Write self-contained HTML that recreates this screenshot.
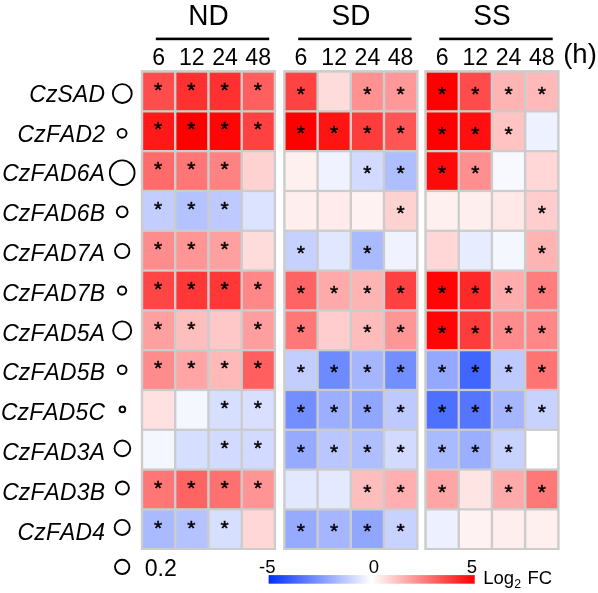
<!DOCTYPE html>
<html><head><meta charset="utf-8"><title>Heatmap</title>
<style>
html,body{margin:0;padding:0;background:#fff}
svg{display:block}
text{font-kerning:none;font-family:"Liberation Sans",Arial,Helvetica,sans-serif;fill:#000}
.g{font-size:28px}
.t{font-size:23.1px}
.l{font-size:22.9px;font-style:italic;letter-spacing:0.17px}
.s{font-size:21px;stroke:#000;stroke-width:0.45px}
.h{font-size:27.5px}
.c{font-size:18.5px}
</style></head><body>
<svg width="598" height="593" viewBox="0 0 598 593">
<defs><linearGradient id="cb" x1="0" y1="0" x2="1" y2="0"><stop offset="0" stop-color="#0030ff"/><stop offset="0.5" stop-color="#ffffff"/><stop offset="1" stop-color="#ff0000"/></linearGradient></defs>
<rect width="598" height="593" fill="#fff"/>
<text class="g" transform="translate(208.4 24.6) scale(1 1.07)" text-anchor="middle">ND</text>
<rect x="155.8" y="37.6" width="113.4" height="2.6" fill="#000"/>
<rect x="140.8" y="70.1" width="135.3" height="479.9" fill="#cccccc"/>
<text class="t" transform="translate(158.7 65.0) scale(1 1.05)" text-anchor="middle">6</text>
<text class="t" transform="translate(191.8 65.0) scale(1 1.05)" text-anchor="middle">12</text>
<text class="t" transform="translate(225.1 65.0) scale(1 1.05)" text-anchor="middle">24</text>
<text class="t" transform="translate(258.2 65.0) scale(1 1.05)" text-anchor="middle">48</text>
<rect x="143.2" y="72.7" width="30.8" height="37.5" fill="#ff4c4c"/>
<text class="s" transform="translate(158.2 96.6) scale(1 1.0)" text-anchor="middle">*</text>
<rect x="176.4" y="72.7" width="30.8" height="37.5" fill="#ff3030"/>
<text class="s" transform="translate(191.4 96.6) scale(1 1.0)" text-anchor="middle">*</text>
<rect x="209.7" y="72.7" width="30.8" height="37.5" fill="#ff3030"/>
<text class="s" transform="translate(224.7 96.6) scale(1 1.0)" text-anchor="middle">*</text>
<rect x="242.9" y="72.7" width="30.8" height="37.5" fill="#ff5f5f"/>
<text class="s" transform="translate(257.9 96.6) scale(1 1.0)" text-anchor="middle">*</text>
<rect x="143.2" y="112.5" width="30.8" height="37.5" fill="#ff1919"/>
<text class="s" transform="translate(158.2 136.4) scale(1 1.0)" text-anchor="middle">*</text>
<rect x="176.4" y="112.5" width="30.8" height="37.5" fill="#ff0000"/>
<text class="s" transform="translate(191.4 136.4) scale(1 1.0)" text-anchor="middle">*</text>
<rect x="209.7" y="112.5" width="30.8" height="37.5" fill="#ff0505"/>
<text class="s" transform="translate(224.7 136.4) scale(1 1.0)" text-anchor="middle">*</text>
<rect x="242.9" y="112.5" width="30.8" height="37.5" fill="#ff4141"/>
<text class="s" transform="translate(257.9 136.4) scale(1 1.0)" text-anchor="middle">*</text>
<rect x="143.2" y="152.3" width="30.8" height="37.5" fill="#ff6a6a"/>
<text class="s" transform="translate(158.2 176.2) scale(1 1.0)" text-anchor="middle">*</text>
<rect x="176.4" y="152.3" width="30.8" height="37.5" fill="#ff7676"/>
<text class="s" transform="translate(191.4 176.2) scale(1 1.0)" text-anchor="middle">*</text>
<rect x="209.7" y="152.3" width="30.8" height="37.5" fill="#ff8282"/>
<text class="s" transform="translate(224.7 176.2) scale(1 1.0)" text-anchor="middle">*</text>
<rect x="242.9" y="152.3" width="30.8" height="37.5" fill="#ffd2d2"/>
<rect x="143.2" y="192.1" width="30.8" height="37.5" fill="#c3ceff"/>
<text class="s" transform="translate(158.2 216.0) scale(1 1.0)" text-anchor="middle">*</text>
<rect x="176.4" y="192.1" width="30.8" height="37.5" fill="#b4c2ff"/>
<text class="s" transform="translate(191.4 216.0) scale(1 1.0)" text-anchor="middle">*</text>
<rect x="209.7" y="192.1" width="30.8" height="37.5" fill="#becaff"/>
<text class="s" transform="translate(224.7 216.0) scale(1 1.0)" text-anchor="middle">*</text>
<rect x="242.9" y="192.1" width="30.8" height="37.5" fill="#dce3ff"/>
<rect x="143.2" y="231.9" width="30.8" height="37.5" fill="#ff8c8c"/>
<text class="s" transform="translate(158.2 255.8) scale(1 1.0)" text-anchor="middle">*</text>
<rect x="176.4" y="231.9" width="30.8" height="37.5" fill="#ff9696"/>
<text class="s" transform="translate(191.4 255.8) scale(1 1.0)" text-anchor="middle">*</text>
<rect x="209.7" y="231.9" width="30.8" height="37.5" fill="#ffa0a0"/>
<text class="s" transform="translate(224.7 255.8) scale(1 1.0)" text-anchor="middle">*</text>
<rect x="242.9" y="231.9" width="30.8" height="37.5" fill="#ffdcdc"/>
<rect x="143.2" y="271.7" width="30.8" height="37.5" fill="#ff4646"/>
<text class="s" transform="translate(158.2 295.7) scale(1 1.0)" text-anchor="middle">*</text>
<rect x="176.4" y="271.7" width="30.8" height="37.5" fill="#ff3737"/>
<text class="s" transform="translate(191.4 295.7) scale(1 1.0)" text-anchor="middle">*</text>
<rect x="209.7" y="271.7" width="30.8" height="37.5" fill="#ff3737"/>
<text class="s" transform="translate(224.7 295.7) scale(1 1.0)" text-anchor="middle">*</text>
<rect x="242.9" y="271.7" width="30.8" height="37.5" fill="#ff8787"/>
<text class="s" transform="translate(257.9 295.7) scale(1 1.0)" text-anchor="middle">*</text>
<rect x="143.2" y="311.5" width="30.8" height="37.5" fill="#ffa0a0"/>
<text class="s" transform="translate(158.2 335.5) scale(1 1.0)" text-anchor="middle">*</text>
<rect x="176.4" y="311.5" width="30.8" height="37.5" fill="#ffbebe"/>
<text class="s" transform="translate(191.4 335.5) scale(1 1.0)" text-anchor="middle">*</text>
<rect x="209.7" y="311.5" width="30.8" height="37.5" fill="#ffc8c8"/>
<rect x="242.9" y="311.5" width="30.8" height="37.5" fill="#ff9e9e"/>
<text class="s" transform="translate(257.9 335.5) scale(1 1.0)" text-anchor="middle">*</text>
<rect x="143.2" y="351.3" width="30.8" height="37.5" fill="#ff8c8c"/>
<text class="s" transform="translate(158.2 375.2) scale(1 1.0)" text-anchor="middle">*</text>
<rect x="176.4" y="351.3" width="30.8" height="37.5" fill="#ffa5a5"/>
<text class="s" transform="translate(191.4 375.2) scale(1 1.0)" text-anchor="middle">*</text>
<rect x="209.7" y="351.3" width="30.8" height="37.5" fill="#ffb9b9"/>
<text class="s" transform="translate(224.7 375.2) scale(1 1.0)" text-anchor="middle">*</text>
<rect x="242.9" y="351.3" width="30.8" height="37.5" fill="#ff5f5f"/>
<text class="s" transform="translate(257.9 375.2) scale(1 1.0)" text-anchor="middle">*</text>
<rect x="143.2" y="391.1" width="30.8" height="37.5" fill="#ffe1e1"/>
<rect x="176.4" y="391.1" width="30.8" height="37.5" fill="#f5f7ff"/>
<rect x="209.7" y="391.1" width="30.8" height="37.5" fill="#d7dfff"/>
<text class="s" transform="translate(224.7 415.1) scale(1 1.0)" text-anchor="middle">*</text>
<rect x="242.9" y="391.1" width="30.8" height="37.5" fill="#d8dfff"/>
<text class="s" transform="translate(257.9 415.1) scale(1 1.0)" text-anchor="middle">*</text>
<rect x="143.2" y="430.9" width="30.8" height="37.5" fill="#f5f7ff"/>
<rect x="176.4" y="430.9" width="30.8" height="37.5" fill="#d7dfff"/>
<rect x="209.7" y="430.9" width="30.8" height="37.5" fill="#d2dbff"/>
<text class="s" transform="translate(224.7 454.9) scale(1 1.0)" text-anchor="middle">*</text>
<rect x="242.9" y="430.9" width="30.8" height="37.5" fill="#d2dbff"/>
<text class="s" transform="translate(257.9 454.9) scale(1 1.0)" text-anchor="middle">*</text>
<rect x="143.2" y="470.7" width="30.8" height="37.5" fill="#ff7676"/>
<text class="s" transform="translate(158.2 494.7) scale(1 1.0)" text-anchor="middle">*</text>
<rect x="176.4" y="470.7" width="30.8" height="37.5" fill="#ff6464"/>
<text class="s" transform="translate(191.4 494.7) scale(1 1.0)" text-anchor="middle">*</text>
<rect x="209.7" y="470.7" width="30.8" height="37.5" fill="#ff7070"/>
<text class="s" transform="translate(224.7 494.7) scale(1 1.0)" text-anchor="middle">*</text>
<rect x="242.9" y="470.7" width="30.8" height="37.5" fill="#ff9494"/>
<text class="s" transform="translate(257.9 494.7) scale(1 1.0)" text-anchor="middle">*</text>
<rect x="143.2" y="510.5" width="30.8" height="37.5" fill="#aabaff"/>
<text class="s" transform="translate(158.2 534.5) scale(1 1.0)" text-anchor="middle">*</text>
<rect x="176.4" y="510.5" width="30.8" height="37.5" fill="#b4c2ff"/>
<text class="s" transform="translate(191.4 534.5) scale(1 1.0)" text-anchor="middle">*</text>
<rect x="209.7" y="510.5" width="30.8" height="37.5" fill="#d7dfff"/>
<text class="s" transform="translate(224.7 534.5) scale(1 1.0)" text-anchor="middle">*</text>
<rect x="242.9" y="510.5" width="30.8" height="37.5" fill="#ffd7d7"/>
<text class="g" transform="translate(350.9 24.6) scale(1 1.07)" text-anchor="middle">SD</text>
<rect x="298.2" y="37.6" width="113.4" height="2.6" fill="#000"/>
<rect x="283.2" y="70.1" width="135.3" height="479.9" fill="#cccccc"/>
<text class="t" transform="translate(301.0 65.0) scale(1 1.05)" text-anchor="middle">6</text>
<text class="t" transform="translate(334.2 65.0) scale(1 1.05)" text-anchor="middle">12</text>
<text class="t" transform="translate(367.4 65.0) scale(1 1.05)" text-anchor="middle">24</text>
<text class="t" transform="translate(400.6 65.0) scale(1 1.05)" text-anchor="middle">48</text>
<rect x="285.6" y="72.7" width="30.8" height="37.5" fill="#ff4242"/>
<text class="s" transform="translate(300.9 100.5) scale(1 1.0)" text-anchor="middle">*</text>
<rect x="318.8" y="72.7" width="30.8" height="37.5" fill="#ffdcdc"/>
<rect x="352.0" y="72.7" width="30.8" height="37.5" fill="#ff9191"/>
<text class="s" transform="translate(367.3 100.5) scale(1 1.0)" text-anchor="middle">*</text>
<rect x="385.2" y="72.7" width="30.8" height="37.5" fill="#ff9898"/>
<text class="s" transform="translate(400.6 100.5) scale(1 1.0)" text-anchor="middle">*</text>
<rect x="285.6" y="112.5" width="30.8" height="37.5" fill="#ff0000"/>
<text class="s" transform="translate(300.9 140.3) scale(1 1.0)" text-anchor="middle">*</text>
<rect x="318.8" y="112.5" width="30.8" height="37.5" fill="#ff1414"/>
<text class="s" transform="translate(334.1 140.3) scale(1 1.0)" text-anchor="middle">*</text>
<rect x="352.0" y="112.5" width="30.8" height="37.5" fill="#ff3c3c"/>
<text class="s" transform="translate(367.3 140.3) scale(1 1.0)" text-anchor="middle">*</text>
<rect x="385.2" y="112.5" width="30.8" height="37.5" fill="#ff5555"/>
<text class="s" transform="translate(400.6 140.3) scale(1 1.0)" text-anchor="middle">*</text>
<rect x="285.6" y="152.3" width="30.8" height="37.5" fill="#fff0f0"/>
<rect x="318.8" y="152.3" width="30.8" height="37.5" fill="#f0f3ff"/>
<rect x="352.0" y="152.3" width="30.8" height="37.5" fill="#d2dbff"/>
<text class="s" transform="translate(367.3 180.2) scale(1 1.0)" text-anchor="middle">*</text>
<rect x="385.2" y="152.3" width="30.8" height="37.5" fill="#afbeff"/>
<text class="s" transform="translate(400.6 180.2) scale(1 1.0)" text-anchor="middle">*</text>
<rect x="285.6" y="192.1" width="30.8" height="37.5" fill="#ffeeee"/>
<rect x="318.8" y="192.1" width="30.8" height="37.5" fill="#ffebeb"/>
<rect x="352.0" y="192.1" width="30.8" height="37.5" fill="#fff2f2"/>
<rect x="385.2" y="192.1" width="30.8" height="37.5" fill="#ffd2d2"/>
<text class="s" transform="translate(400.6 219.9) scale(1 1.0)" text-anchor="middle">*</text>
<rect x="285.6" y="231.9" width="30.8" height="37.5" fill="#c6d1ff"/>
<text class="s" transform="translate(300.9 259.8) scale(1 1.0)" text-anchor="middle">*</text>
<rect x="318.8" y="231.9" width="30.8" height="37.5" fill="#e1e7ff"/>
<rect x="352.0" y="231.9" width="30.8" height="37.5" fill="#aabaff"/>
<text class="s" transform="translate(367.3 259.8) scale(1 1.0)" text-anchor="middle">*</text>
<rect x="385.2" y="231.9" width="30.8" height="37.5" fill="#f0f3ff"/>
<rect x="285.6" y="271.7" width="30.8" height="37.5" fill="#ff6464"/>
<text class="s" transform="translate(300.9 299.6) scale(1 1.0)" text-anchor="middle">*</text>
<rect x="318.8" y="271.7" width="30.8" height="37.5" fill="#ffaaaa"/>
<text class="s" transform="translate(334.1 299.6) scale(1 1.0)" text-anchor="middle">*</text>
<rect x="352.0" y="271.7" width="30.8" height="37.5" fill="#ffb4b4"/>
<text class="s" transform="translate(367.3 299.6) scale(1 1.0)" text-anchor="middle">*</text>
<rect x="385.2" y="271.7" width="30.8" height="37.5" fill="#ff4141"/>
<text class="s" transform="translate(400.6 299.6) scale(1 1.0)" text-anchor="middle">*</text>
<rect x="285.6" y="311.5" width="30.8" height="37.5" fill="#ff7878"/>
<text class="s" transform="translate(300.9 339.4) scale(1 1.0)" text-anchor="middle">*</text>
<rect x="318.8" y="311.5" width="30.8" height="37.5" fill="#ffcdcd"/>
<rect x="352.0" y="311.5" width="30.8" height="37.5" fill="#ffbcbc"/>
<text class="s" transform="translate(367.3 339.4) scale(1 1.0)" text-anchor="middle">*</text>
<rect x="385.2" y="311.5" width="30.8" height="37.5" fill="#ff9696"/>
<text class="s" transform="translate(400.6 339.4) scale(1 1.0)" text-anchor="middle">*</text>
<rect x="285.6" y="351.3" width="30.8" height="37.5" fill="#c3ceff"/>
<text class="s" transform="translate(300.9 379.1) scale(1 1.0)" text-anchor="middle">*</text>
<rect x="318.8" y="351.3" width="30.8" height="37.5" fill="#6e8aff"/>
<text class="s" transform="translate(334.1 379.1) scale(1 1.0)" text-anchor="middle">*</text>
<rect x="352.0" y="351.3" width="30.8" height="37.5" fill="#a5b6ff"/>
<text class="s" transform="translate(367.3 379.1) scale(1 1.0)" text-anchor="middle">*</text>
<rect x="385.2" y="351.3" width="30.8" height="37.5" fill="#738eff"/>
<text class="s" transform="translate(400.6 379.1) scale(1 1.0)" text-anchor="middle">*</text>
<rect x="285.6" y="391.1" width="30.8" height="37.5" fill="#738eff"/>
<text class="s" transform="translate(300.9 418.9) scale(1 1.0)" text-anchor="middle">*</text>
<rect x="318.8" y="391.1" width="30.8" height="37.5" fill="#9baeff"/>
<text class="s" transform="translate(334.1 418.9) scale(1 1.0)" text-anchor="middle">*</text>
<rect x="352.0" y="391.1" width="30.8" height="37.5" fill="#91a6ff"/>
<text class="s" transform="translate(367.3 418.9) scale(1 1.0)" text-anchor="middle">*</text>
<rect x="385.2" y="391.1" width="30.8" height="37.5" fill="#becaff"/>
<text class="s" transform="translate(400.6 418.9) scale(1 1.0)" text-anchor="middle">*</text>
<rect x="285.6" y="430.9" width="30.8" height="37.5" fill="#96aaff"/>
<text class="s" transform="translate(300.9 458.8) scale(1 1.0)" text-anchor="middle">*</text>
<rect x="318.8" y="430.9" width="30.8" height="37.5" fill="#b9c6ff"/>
<text class="s" transform="translate(334.1 458.8) scale(1 1.0)" text-anchor="middle">*</text>
<rect x="352.0" y="430.9" width="30.8" height="37.5" fill="#afbeff"/>
<text class="s" transform="translate(367.3 458.8) scale(1 1.0)" text-anchor="middle">*</text>
<rect x="385.2" y="430.9" width="30.8" height="37.5" fill="#d2dbff"/>
<text class="s" transform="translate(400.6 458.8) scale(1 1.0)" text-anchor="middle">*</text>
<rect x="285.6" y="470.7" width="30.8" height="37.5" fill="#e2e8ff"/>
<rect x="318.8" y="470.7" width="30.8" height="37.5" fill="#e4e9ff"/>
<rect x="352.0" y="470.7" width="30.8" height="37.5" fill="#ffbebe"/>
<text class="s" transform="translate(367.3 498.6) scale(1 1.0)" text-anchor="middle">*</text>
<rect x="385.2" y="470.7" width="30.8" height="37.5" fill="#ffafaf"/>
<text class="s" transform="translate(400.6 498.6) scale(1 1.0)" text-anchor="middle">*</text>
<rect x="285.6" y="510.5" width="30.8" height="37.5" fill="#96aaff"/>
<text class="s" transform="translate(300.9 538.4) scale(1 1.0)" text-anchor="middle">*</text>
<rect x="318.8" y="510.5" width="30.8" height="37.5" fill="#a5b6ff"/>
<text class="s" transform="translate(334.1 538.4) scale(1 1.0)" text-anchor="middle">*</text>
<rect x="352.0" y="510.5" width="30.8" height="37.5" fill="#91a6ff"/>
<text class="s" transform="translate(367.3 538.4) scale(1 1.0)" text-anchor="middle">*</text>
<rect x="385.2" y="510.5" width="30.8" height="37.5" fill="#c8d2ff"/>
<text class="s" transform="translate(400.6 538.4) scale(1 1.0)" text-anchor="middle">*</text>
<text class="g" transform="translate(492.0 24.6) scale(1 1.07)" text-anchor="middle">SS</text>
<rect x="439.3" y="37.6" width="113.4" height="2.6" fill="#000"/>
<rect x="424.3" y="70.1" width="135.3" height="479.9" fill="#cccccc"/>
<text class="t" transform="translate(442.1 65.0) scale(1 1.05)" text-anchor="middle">6</text>
<text class="t" transform="translate(475.3 65.0) scale(1 1.05)" text-anchor="middle">12</text>
<text class="t" transform="translate(508.5 65.0) scale(1 1.05)" text-anchor="middle">24</text>
<text class="t" transform="translate(541.8 65.0) scale(1 1.05)" text-anchor="middle">48</text>
<rect x="426.8" y="72.7" width="30.8" height="37.5" fill="#ff0000"/>
<text class="s" transform="translate(442.1 100.8) scale(1 1.0)" text-anchor="middle">*</text>
<rect x="459.9" y="72.7" width="30.8" height="37.5" fill="#ff4b4b"/>
<text class="s" transform="translate(475.3 100.8) scale(1 1.0)" text-anchor="middle">*</text>
<rect x="493.1" y="72.7" width="30.8" height="37.5" fill="#ffb4b4"/>
<text class="s" transform="translate(508.5 100.8) scale(1 1.0)" text-anchor="middle">*</text>
<rect x="526.4" y="72.7" width="30.8" height="37.5" fill="#ffb9b9"/>
<text class="s" transform="translate(541.8 100.8) scale(1 1.0)" text-anchor="middle">*</text>
<rect x="426.8" y="112.5" width="30.8" height="37.5" fill="#ff0000"/>
<text class="s" transform="translate(442.1 140.5) scale(1 1.0)" text-anchor="middle">*</text>
<rect x="459.9" y="112.5" width="30.8" height="37.5" fill="#ff0f0f"/>
<text class="s" transform="translate(475.3 140.5) scale(1 1.0)" text-anchor="middle">*</text>
<rect x="493.1" y="112.5" width="30.8" height="37.5" fill="#ffc3c3"/>
<text class="s" transform="translate(508.5 140.5) scale(1 1.0)" text-anchor="middle">*</text>
<rect x="526.4" y="112.5" width="30.8" height="37.5" fill="#eef1ff"/>
<rect x="426.8" y="152.3" width="30.8" height="37.5" fill="#ff0a0a"/>
<text class="s" transform="translate(442.1 180.3) scale(1 1.0)" text-anchor="middle">*</text>
<rect x="459.9" y="152.3" width="30.8" height="37.5" fill="#ff8e8e"/>
<text class="s" transform="translate(475.3 180.3) scale(1 1.0)" text-anchor="middle">*</text>
<rect x="493.1" y="152.3" width="30.8" height="37.5" fill="#f8f9ff"/>
<rect x="526.4" y="152.3" width="30.8" height="37.5" fill="#ffd7d7"/>
<rect x="426.8" y="192.1" width="30.8" height="37.5" fill="#fff0f0"/>
<rect x="459.9" y="192.1" width="30.8" height="37.5" fill="#ffeeee"/>
<rect x="493.1" y="192.1" width="30.8" height="37.5" fill="#ffe8e8"/>
<rect x="526.4" y="192.1" width="30.8" height="37.5" fill="#ffcdcd"/>
<text class="s" transform="translate(541.8 220.1) scale(1 1.0)" text-anchor="middle">*</text>
<rect x="426.8" y="231.9" width="30.8" height="37.5" fill="#ffd7d7"/>
<rect x="459.9" y="231.9" width="30.8" height="37.5" fill="#e8ecff"/>
<rect x="493.1" y="231.9" width="30.8" height="37.5" fill="#f5f7ff"/>
<rect x="526.4" y="231.9" width="30.8" height="37.5" fill="#ffb4b4"/>
<text class="s" transform="translate(541.8 259.9) scale(1 1.0)" text-anchor="middle">*</text>
<rect x="426.8" y="271.7" width="30.8" height="37.5" fill="#ff0505"/>
<text class="s" transform="translate(442.1 299.8) scale(1 1.0)" text-anchor="middle">*</text>
<rect x="459.9" y="271.7" width="30.8" height="37.5" fill="#ff2828"/>
<text class="s" transform="translate(475.3 299.8) scale(1 1.0)" text-anchor="middle">*</text>
<rect x="493.1" y="271.7" width="30.8" height="37.5" fill="#ffacac"/>
<text class="s" transform="translate(508.5 299.8) scale(1 1.0)" text-anchor="middle">*</text>
<rect x="526.4" y="271.7" width="30.8" height="37.5" fill="#ff7d7d"/>
<text class="s" transform="translate(541.8 299.8) scale(1 1.0)" text-anchor="middle">*</text>
<rect x="426.8" y="311.5" width="30.8" height="37.5" fill="#ff0505"/>
<text class="s" transform="translate(442.1 339.6) scale(1 1.0)" text-anchor="middle">*</text>
<rect x="459.9" y="311.5" width="30.8" height="37.5" fill="#ff3c3c"/>
<text class="s" transform="translate(475.3 339.6) scale(1 1.0)" text-anchor="middle">*</text>
<rect x="493.1" y="311.5" width="30.8" height="37.5" fill="#ff8c8c"/>
<text class="s" transform="translate(508.5 339.6) scale(1 1.0)" text-anchor="middle">*</text>
<rect x="526.4" y="311.5" width="30.8" height="37.5" fill="#ff8787"/>
<text class="s" transform="translate(541.8 339.6) scale(1 1.0)" text-anchor="middle">*</text>
<rect x="426.8" y="351.3" width="30.8" height="37.5" fill="#94a8ff"/>
<text class="s" transform="translate(442.1 379.3) scale(1 1.0)" text-anchor="middle">*</text>
<rect x="459.9" y="351.3" width="30.8" height="37.5" fill="#4165ff"/>
<text class="s" transform="translate(475.3 379.3) scale(1 1.0)" text-anchor="middle">*</text>
<rect x="493.1" y="351.3" width="30.8" height="37.5" fill="#becaff"/>
<text class="s" transform="translate(508.5 379.3) scale(1 1.0)" text-anchor="middle">*</text>
<rect x="526.4" y="351.3" width="30.8" height="37.5" fill="#ff7373"/>
<text class="s" transform="translate(541.8 379.3) scale(1 1.0)" text-anchor="middle">*</text>
<rect x="426.8" y="391.1" width="30.8" height="37.5" fill="#4e70ff"/>
<text class="s" transform="translate(442.1 419.1) scale(1 1.0)" text-anchor="middle">*</text>
<rect x="459.9" y="391.1" width="30.8" height="37.5" fill="#5575ff"/>
<text class="s" transform="translate(475.3 419.1) scale(1 1.0)" text-anchor="middle">*</text>
<rect x="493.1" y="391.1" width="30.8" height="37.5" fill="#a5b6ff"/>
<text class="s" transform="translate(508.5 419.1) scale(1 1.0)" text-anchor="middle">*</text>
<rect x="526.4" y="391.1" width="30.8" height="37.5" fill="#c8d2ff"/>
<text class="s" transform="translate(541.8 419.1) scale(1 1.0)" text-anchor="middle">*</text>
<rect x="426.8" y="430.9" width="30.8" height="37.5" fill="#aabaff"/>
<text class="s" transform="translate(442.1 458.9) scale(1 1.0)" text-anchor="middle">*</text>
<rect x="459.9" y="430.9" width="30.8" height="37.5" fill="#9baeff"/>
<text class="s" transform="translate(475.3 458.9) scale(1 1.0)" text-anchor="middle">*</text>
<rect x="493.1" y="430.9" width="30.8" height="37.5" fill="#c8d2ff"/>
<text class="s" transform="translate(508.5 458.9) scale(1 1.0)" text-anchor="middle">*</text>
<rect x="526.4" y="430.9" width="30.8" height="37.5" fill="#ffffff"/>
<rect x="426.8" y="470.7" width="30.8" height="37.5" fill="#ffa5a5"/>
<text class="s" transform="translate(442.1 498.8) scale(1 1.0)" text-anchor="middle">*</text>
<rect x="459.9" y="470.7" width="30.8" height="37.5" fill="#ffe4e4"/>
<rect x="493.1" y="470.7" width="30.8" height="37.5" fill="#ffaaaa"/>
<text class="s" transform="translate(508.5 498.8) scale(1 1.0)" text-anchor="middle">*</text>
<rect x="526.4" y="470.7" width="30.8" height="37.5" fill="#ff7878"/>
<text class="s" transform="translate(541.8 498.8) scale(1 1.0)" text-anchor="middle">*</text>
<rect x="426.8" y="510.5" width="30.8" height="37.5" fill="#ecf0ff"/>
<rect x="459.9" y="510.5" width="30.8" height="37.5" fill="#fff2f2"/>
<rect x="493.1" y="510.5" width="30.8" height="37.5" fill="#ffeeee"/>
<rect x="526.4" y="510.5" width="30.8" height="37.5" fill="#fff0f0"/>
<text class="l" transform="translate(105.1 101.8) scale(1 1.07)" text-anchor="end">CzSAD</text>
<text class="l" transform="translate(105.1 141.6) scale(1 1.07)" text-anchor="end">CzFAD2</text>
<text class="l" transform="translate(105.1 181.4) scale(1 1.07)" text-anchor="end">CzFAD6A</text>
<text class="l" transform="translate(105.1 221.2) scale(1 1.07)" text-anchor="end">CzFAD6B</text>
<text class="l" transform="translate(105.1 261.0) scale(1 1.07)" text-anchor="end">CzFAD7A</text>
<text class="l" transform="translate(105.1 300.8) scale(1 1.07)" text-anchor="end">CzFAD7B</text>
<text class="l" transform="translate(105.1 340.6) scale(1 1.07)" text-anchor="end">CzFAD5A</text>
<text class="l" transform="translate(105.1 380.4) scale(1 1.07)" text-anchor="end">CzFAD5B</text>
<text class="l" transform="translate(105.1 420.2) scale(1 1.07)" text-anchor="end">CzFAD5C</text>
<text class="l" transform="translate(105.1 460.0) scale(1 1.07)" text-anchor="end">CzFAD3A</text>
<text class="l" transform="translate(105.1 499.8) scale(1 1.07)" text-anchor="end">CzFAD3B</text>
<text class="l" transform="translate(105.1 539.6) scale(1 1.07)" text-anchor="end">CzFAD4</text>
<circle cx="122.3" cy="93.6" r="9.45" fill="none" stroke="#000" stroke-width="1.9"/>
<circle cx="122.1" cy="133.3" r="4.45" fill="none" stroke="#000" stroke-width="1.9"/>
<circle cx="122.2" cy="172.7" r="12.35" fill="none" stroke="#000" stroke-width="1.9"/>
<circle cx="122.2" cy="211.8" r="5.40" fill="none" stroke="#000" stroke-width="1.9"/>
<circle cx="122.2" cy="251.0" r="7.15" fill="none" stroke="#000" stroke-width="1.9"/>
<circle cx="122.1" cy="290.6" r="4.15" fill="none" stroke="#000" stroke-width="1.9"/>
<circle cx="122.2" cy="330.4" r="9.05" fill="none" stroke="#000" stroke-width="1.9"/>
<circle cx="122.2" cy="369.8" r="4.35" fill="none" stroke="#000" stroke-width="1.9"/>
<circle cx="122.4" cy="409.4" r="2.85" fill="none" stroke="#000" stroke-width="1.9"/>
<circle cx="122.4" cy="448.4" r="7.85" fill="none" stroke="#000" stroke-width="1.9"/>
<circle cx="122.4" cy="488.0" r="6.50" fill="none" stroke="#000" stroke-width="1.9"/>
<circle cx="122.2" cy="527.4" r="7.55" fill="none" stroke="#000" stroke-width="1.9"/>
<circle cx="122.2" cy="566.9" r="7.15" fill="none" stroke="#000" stroke-width="1.9"/>
<text class="h" transform="translate(563.2 62.8) scale(1 1.0)">(h)</text>
<text class="t" transform="translate(144.7 576.1) scale(1 1.03)">0.2</text>
<rect x="268.6" y="575.1" width="206.1" height="8.6" fill="url(#cb)"/>
<text class="c" transform="translate(267.3 572.7) scale(1 1.0)" text-anchor="middle">-5</text>
<text class="c" transform="translate(374.0 572.7) scale(1 1.0)" text-anchor="middle">0</text>
<text class="c" transform="translate(472.0 572.7) scale(1 1.0)" text-anchor="middle">5</text>
<text class="c" transform="translate(483.3 584.3) scale(1 1.02)">Log<tspan font-size="12.3" dy="4">2</tspan><tspan dy="-4" dx="1.3"> FC</tspan></text>
</svg>
</body></html>
